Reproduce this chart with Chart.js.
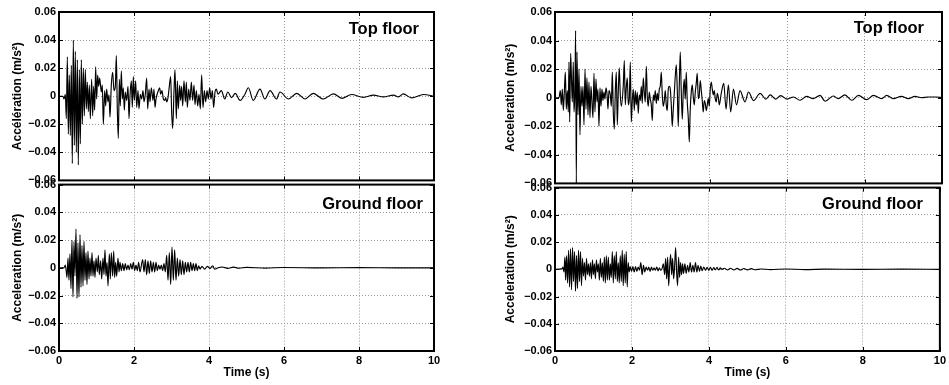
<!DOCTYPE html>
<html>
<head>
<meta charset="utf-8">
<script src="https://cdn.jsdelivr.net/npm/chart.js@4/dist/chart.umd.min.js"></script>
<style>
  html, body { margin: 0; padding: 0; background: #fff; }
  #wrap { position: relative; width: 949px; height: 385px; overflow: hidden; background: #fff; }
  canvas { position: absolute; }
</style>
</head>
<body>
<div id="wrap">
  <canvas id="leftTop" width="470" height="190" style="left:0px;top:0px"></canvas>
  <canvas id="leftBottom" width="470" height="210" style="left:0px;top:175px"></canvas>
  <canvas id="rightTop" width="459" height="193" style="left:490px;top:0px"></canvas>
  <canvas id="rightBottom" width="459" height="207" style="left:490px;top:178px"></canvas>
</div>
<script>
// time (s), acceleration (m/s²)
const leftTopData = [[0,0],[0.106,0],[0.133,-0.002],[0.169,0.0014],[0.195,-0.016],[0.222,0.028],[0.249,-0.027],[0.275,0.015],[0.302,-0.028],[0.329,0.022],[0.355,-0.048],[0.382,0.040],[0.409,-0.035],[0.435,0.032],[0.462,-0.040],[0.489,0.026],[0.515,-0.049],[0.542,0.019],[0.569,-0.034],[0.595,0.026],[0.622,-0.020],[0.649,0.020],[0.675,-0.014],[0.702,0.019],[0.729,-0.009],[0.755,0.010],[0.782,-0.011],[0.809,0.008],[0.835,-0.016],[0.871,0.012],[0.898,-0.014],[0.924,0.007],[0.951,-0.010],[0.978,0.021],[1.004,-0.002],[1.031,0.015],[1.058,0.007],[1.084,0.013],[1.129,0.003],[1.155,0.008],[1.182,-0.020],[1.218,0.004],[1.244,-0.007],[1.271,0.005],[1.306,-0.004],[1.333,0.001],[1.360,-0.015],[1.395,0.008],[1.431,0.017],[1.466,0.004],[1.502,0.007],[1.529,0.029],[1.555,-0.009],[1.582,-0.030],[1.609,0.012],[1.635,-0.007],[1.662,0.018],[1.689,-0.002],[1.715,0.006],[1.742,-0.010],[1.769,0.003],[1.804,-0.003],[1.840,0.007],[1.867,-0.016],[1.893,0],[1.929,0.011],[1.955,-0.008],[1.982,0.014],[2.009,-0.003],[2.044,0.011],[2.071,-0.008],[2.107,0.004],[2.133,-0.009],[2.169,0.0014],[2.204,-0.002],[2.240,0.004],[2.267,-0.004],[2.302,0.0014],[2.338,0.013],[2.365,-0.009],[2.400,0.005],[2.427,-0.004],[2.462,0.006],[2.507,-0.003],[2.533,0.005],[2.560,-0.008],[2.587,-0.002],[2.649,0.004],[2.684,0.006],[2.711,0.0014],[2.747,0.004],[2.782,-0.002],[2.818,-0.003],[2.844,-0.001],[2.871,-0.004],[2.907,-0.001],[2.942,0.007],[2.978,0.014],[3.004,-0.011],[3.031,-0.023],[3.067,0.004],[3.093,0.019],[3.129,-0.016],[3.156,0.011],[3.182,-0.009],[3.218,0.008],[3.244,-0.003],[3.271,0.007],[3.298,-0.007],[3.333,0.011],[3.369,-0.004],[3.396,0.010],[3.422,-0.008],[3.458,0.005],[3.493,-0.003],[3.529,0.010],[3.564,-0.003],[3.600,0.008],[3.627,-0.006],[3.662,0.004],[3.698,-0.007],[3.733,0.0014],[3.769,-0.009],[3.804,0.015],[3.840,-0.008],[3.876,0.004],[3.911,-0.004],[3.947,0.004],[3.982,-0.002],[4.018,0.006],[4.053,-0.002],[4.089,0.004],[4.124,-0.008],[4.160,0.003],[4.196,0.005],[4.24,0.0014],[4.33,0.004],[4.42,-0.002],[4.50,0.003],[4.60,-0.001],[4.70,0.002],[4.83,-0.003],[4.95,0.001],[5.05,0.006],[5.18,-0.003],[5.36,0.005],[5.49,-0.002],[5.63,0.004],[5.80,-0.002],[5.89,0.003],[6.12,-0.002],[6.34,0.002],[6.56,-0.002],[6.78,0.002],[7.05,-0.002],[7.32,0.0017],[7.54,-0.0015],[7.80,0.0012],[8.12,-0.0008],[8.38,0.0008],[8.65,-0.0005],[8.92,0.0008],[9.05,-0.0005],[9.18,0.0017],[9.40,-0.0012],[9.72,0.0012],[10,0]];

const leftBottomData = [[0,0],[0.133,0],[0.169,0.002],[0.195,-0.003],[0.213,-0.007],[0.240,0.007],[0.266,-0.009],[0.293,0.010],[0.320,-0.015],[0.346,0.020],[0.373,-0.021],[0.400,0.019],[0.426,-0.006],[0.453,0.028],[0.480,-0.022],[0.506,0.018],[0.533,-0.021],[0.560,0.024],[0.586,-0.014],[0.613,0.016],[0.640,-0.013],[0.666,0.019],[0.693,-0.009],[0.720,0.011],[0.746,-0.012],[0.773,0.012],[0.800,-0.008],[0.826,0.007],[0.853,-0.006],[0.880,0.011],[0.906,-0.006],[0.933,0.005],[0.960,-0.007],[0.986,0.007],[1.022,-0.003],[1.049,0.009],[1.075,-0.005],[1.111,0.005],[1.138,-0.008],[1.173,0.007],[1.200,-0.005],[1.226,0.013],[1.253,-0.006],[1.280,0.004],[1.306,-0.013],[1.342,0.010],[1.369,-0.008],[1.395,0.011],[1.431,-0.006],[1.458,0.012],[1.484,-0.007],[1.511,0.004],[1.538,-0.006],[1.573,0.007],[1.600,-0.003],[1.627,0.004],[1.662,-0.002],[1.698,0.003],[1.733,-0.002],[1.769,0.003],[1.804,-0.0015],[1.840,0.002],[1.876,-0.0015],[1.911,0.003],[1.947,-0.001],[1.982,0.004],[2.018,-0.002],[2.053,0.002],[2.089,-0.002],[2.124,0.004],[2.160,-0.003],[2.231,0.006],[2.267,-0.003],[2.302,0.006],[2.338,-0.005],[2.373,0.005],[2.409,-0.004],[2.444,0.005],[2.480,-0.003],[2.516,0.004],[2.551,-0.003],[2.587,0.004],[2.622,-0.002],[2.658,0.002],[2.693,-0.001],[2.729,0.002],[2.764,-0.002],[2.800,0.003],[2.836,-0.003],[2.871,0.009],[2.907,-0.009],[2.942,0.011],[2.978,-0.012],[3.013,0.015],[3.049,-0.009],[3.084,0.013],[3.120,-0.009],[3.156,0.007],[3.191,-0.006],[3.227,0.006],[3.262,-0.005],[3.298,0.005],[3.333,-0.005],[3.369,0.004],[3.404,-0.003],[3.440,0.004],[3.476,-0.003],[3.511,0.004],[3.547,-0.002],[3.582,0.003],[3.618,-0.002],[3.653,0.003],[3.689,-0.002],[3.724,0.0015],[3.760,-0.001],[3.813,0.001],[3.884,-0.001],[3.956,0.001],[4.027,-0.0005],[4.098,0.0015],[4.151,-0.001],[4.24,0],[4.35,0.0006],[4.5,-0.0004],[4.65,0.0005],[4.8,-0.0003],[5.0,0.0003],[5.5,-0.0002],[6,0.0002],[7,-0.0001],[8,0.0001],[9,0],[10,0]];

const rightTopData = [[0,0],[0.103,0],[0.137,0.005],[0.163,-0.005],[0.189,0.006],[0.215,-0.009],[0.241,0.004],[0.267,0.018],[0.292,-0.008],[0.318,0.005],[0.344,-0.010],[0.361,0.025],[0.379,-0.017],[0.404,0.031],[0.430,0.009],[0.447,-0.003],[0.473,0.025],[0.490,-0.010],[0.516,0.006],[0.533,0.047],[0.551,-0.060],[0.568,0.032],[0.594,-0.012],[0.620,0.020],[0.645,-0.026],[0.671,0.008],[0.697,-0.006],[0.723,0.008],[0.749,-0.019],[0.775,0.020],[0.800,-0.008],[0.826,0.014],[0.852,-0.012],[0.878,0.011],[0.904,-0.014],[0.930,0.008],[0.955,-0.003],[0.981,-0.014],[1.007,0.017],[1.033,-0.010],[1.059,0.013],[1.085,-0.003],[1.110,0.006],[1.136,-0.020],[1.162,0.007],[1.188,-0.006],[1.214,0.006],[1.240,-0.002],[1.265,0.004],[1.291,-0.001],[1.317,0.007],[1.343,0.003],[1.369,-0.008],[1.394,0.005],[1.429,0.002],[1.455,-0.006],[1.481,0.018],[1.506,-0.010],[1.532,-0.022],[1.558,0.004],[1.584,0.018],[1.610,-0.019],[1.636,0.005],[1.661,0.021],[1.687,0.002],[1.713,-0.006],[1.765,0.009],[1.791,0.026],[1.816,-0.005],[1.842,0.007],[1.868,0.014],[1.894,-0.005],[1.920,-0.001],[1.946,0.025],[1.971,-0.017],[1.997,-0.002],[2.023,0.006],[2.049,-0.009],[2.075,0.005],[2.101,-0.005],[2.126,0.004],[2.152,-0.011],[2.178,0.002],[2.204,-0.002],[2.230,0.008],[2.255,-0.004],[2.281,0.014],[2.307,0.004],[2.333,-0.003],[2.359,0.022],[2.385,0.0005],[2.410,-0.006],[2.436,0.004],[2.462,-0.001],[2.488,-0.005],[2.514,-0.016],[2.540,0.002],[2.565,-0.002],[2.591,0.005],[2.617,-0.004],[2.643,0.003],[2.669,-0.002],[2.695,0.006],[2.720,0.008],[2.746,0.018],[2.772,0.002],[2.798,-0.006],[2.824,-0.002],[2.850,0.005],[2.875,-0.005],[2.901,-0.009],[2.927,0.006],[2.953,0.008],[2.979,0.006],[3.005,-0.005],[3.030,-0.020],[3.056,-0.008],[3.082,0.003],[3.108,0.015],[3.134,0.023],[3.160,0.005],[3.185,-0.020],[3.211,0.008],[3.237,0.032],[3.263,0.004],[3.289,-0.015],[3.315,0.005],[3.340,0.013],[3.366,-0.001],[3.392,0.018],[3.418,-0.003],[3.444,-0.014],[3.470,-0.031],[3.495,-0.008],[3.521,0.004],[3.547,0.009],[3.573,0.0005],[3.599,-0.005],[3.625,0.004],[3.650,0.010],[3.676,0.017],[3.702,-0.0007],[3.728,0.0016],[3.754,0.012],[3.780,0.005],[3.805,-0.002],[3.831,-0.010],[3.857,-0.002],[3.883,-0.004],[3.909,-0.009],[3.935,-0.005],[3.961,-0.0007],[3.986,-0.006],[4.012,0.006],[4.038,0.011],[4.064,0.006],[4.090,0.002],[4.115,0.005],[4.141,-0.0007],[4.167,-0.003],[4.193,0.003],[4.219,0.0005],[4.245,-0.005],[4.296,0.003],[4.36,0.010],[4.42,-0.008],[4.48,0.009],[4.54,-0.010],[4.61,0.006],[4.69,-0.005],[4.78,0.005],[4.91,-0.003],[5.00,0.004],[5.13,-0.002],[5.30,0.003],[5.45,-0.001],[5.56,0.002],[5.70,-0.001],[5.83,0.0015],[6.00,-0.001],[6.16,0.0005],[6.33,-0.0018],[6.50,0.0009],[6.67,-0.0007],[6.85,0.0016],[6.98,-0.0025],[7.19,0.0012],[7.32,-0.0007],[7.49,0.0020],[7.67,-0.0018],[7.84,0.0016],[8.05,-0.0014],[8.23,0.0016],[8.44,-0.0007],[8.57,0.0016],[8.74,-0.0007],[8.95,0.0009],[9.13,-0.0007],[9.30,0.0009],[9.47,0],[9.64,0.0005],[9.85,0.0005],[10,0]];

const rightBottomData = [[0,0],[0.189,0.0005],[0.206,0.0017],[0.232,-0.002],[0.258,0.009],[0.275,-0.008],[0.301,0.010],[0.327,-0.010],[0.353,0.014],[0.379,-0.013],[0.404,0.015],[0.430,-0.015],[0.456,0.016],[0.482,-0.009],[0.508,0.013],[0.533,-0.016],[0.559,0.010],[0.585,-0.014],[0.611,0.014],[0.637,-0.009],[0.663,0.013],[0.688,-0.012],[0.714,0.008],[0.740,-0.005],[0.766,0.005],[0.792,-0.008],[0.818,0.008],[0.843,-0.004],[0.869,0.004],[0.895,-0.005],[0.921,0.005],[0.947,-0.007],[0.973,0.007],[0.998,-0.004],[1.024,0.004],[1.050,-0.007],[1.076,0.007],[1.102,-0.002],[1.128,0.004],[1.153,-0.008],[1.179,0.008],[1.205,-0.006],[1.231,0.005],[1.257,-0.009],[1.283,0.009],[1.308,-0.010],[1.334,0.010],[1.360,-0.008],[1.386,0.009],[1.412,-0.008],[1.438,0.004],[1.463,-0.006],[1.489,0.013],[1.515,-0.010],[1.541,0.010],[1.567,-0.007],[1.593,0.013],[1.618,-0.009],[1.644,0.005],[1.670,-0.010],[1.696,0.010],[1.722,-0.009],[1.747,0.014],[1.773,-0.012],[1.799,0.011],[1.825,-0.010],[1.851,0.013],[1.877,-0.013],[1.902,0.005],[1.928,-0.002],[1.954,0.002],[1.989,-0.0015],[2.023,0.002],[2.057,-0.002],[2.092,0.002],[2.126,-0.0015],[2.161,0.0017],[2.195,-0.0007],[2.230,0.005],[2.264,-0.004],[2.299,0.003],[2.333,-0.002],[2.367,0.0017],[2.402,-0.0007],[2.436,0.0017],[2.471,-0.0015],[2.505,0.0017],[2.540,-0.0007],[2.574,0.001],[2.609,-0.0007],[2.643,0.0017],[2.677,-0.0012],[2.712,0.001],[2.746,-0.0007],[2.781,0.0005],[2.815,0.004],[2.850,-0.004],[2.875,0.008],[2.901,-0.007],[2.927,0.009],[2.953,-0.012],[2.979,0.002],[3.005,0.011],[3.030,-0.004],[3.056,0.008],[3.082,-0.007],[3.108,0.002],[3.134,0.016],[3.160,-0.002],[3.185,-0.012],[3.211,0.009],[3.237,-0.006],[3.263,0.005],[3.289,-0.004],[3.315,0.004],[3.340,-0.003],[3.375,0.004],[3.409,-0.003],[3.444,0.003],[3.478,-0.002],[3.513,0.005],[3.547,-0.002],[3.582,0.003],[3.616,-0.002],[3.650,0.005],[3.685,-0.002],[3.719,0.003],[3.754,-0.0015],[3.788,0.0024],[3.823,-0.001],[3.866,0.0017],[3.909,-0.0007],[3.952,0.0015],[3.995,-0.0007],[4.038,0.0015],[4.081,-0.0007],[4.124,0.0012],[4.167,-0.0005],[4.210,0.0015],[4.253,-0.0005],[4.296,0.001],[4.339,0],[4.40,0.0008],[4.48,-0.0005],[4.56,0.0008],[4.65,-0.0005],[4.73,0.0007],[4.82,-0.0005],[4.91,0.0006],[5.00,-0.0004],[5.10,0.0005],[5.20,-0.0003],[5.35,0.0002],[5.60,-0.0002],[6.0,0.0002],[6.5,-0.0002],[7.0,0.0001],[8.0,-0.0001],[9.0,0.0001],[10,0]];

const timeTicks = ['0', '2', '4', '6', '8', '10'];

const FONT = '"Liberation Sans", Arial, Helvetica, sans-serif';
const tickFont = { family: FONT, size: 11, weight: 'bold' };
const titleFont = { family: FONT, size: 12, weight: 'bold' };

function fmtAcc(v) {
  if (Math.abs(v) < 1e-9) return '0';
  return v.toFixed(2).replace('-', '\u2212');
}

// frame, inward ticks and panel label, like the matlab figure
const framePlugin = {
  id: 'panelFrame',
  afterDraw(chart, args, opts) {
    const { ctx, chartArea: a, scales: { x, y } } = chart;
    ctx.save();
    ctx.strokeStyle = '#000';
    ctx.lineWidth = 1;
    ctx.beginPath();
    x.ticks.forEach(t => {
      const px = Math.round(x.getPixelForValue(t.value)) + 0.5;
      ctx.moveTo(px, a.top); ctx.lineTo(px, a.top + 4);
      ctx.moveTo(px, a.bottom); ctx.lineTo(px, a.bottom - 4);
    });
    y.ticks.forEach(t => {
      const py = Math.round(y.getPixelForValue(t.value)) + 0.5;
      ctx.moveTo(a.left, py); ctx.lineTo(a.left + 4, py);
      ctx.moveTo(a.right, py); ctx.lineTo(a.right - 4, py);
    });
    ctx.stroke();
    ctx.lineWidth = 2;
    ctx.strokeRect(a.left, a.top, a.right - a.left, a.bottom - a.top);
    ctx.fillStyle = '#000';
    ctx.font = 'bold 16.5px ' + FONT;
    ctx.textAlign = 'right';
    ctx.textBaseline = 'alphabetic';
    ctx.fillText(opts.label, a.right - opts.dx, a.top + opts.dy);
    ctx.restore();
  }
};

function makePanel(id, pairs, cfg) {
  return new Chart(document.getElementById(id), {
    type: 'line',
    data: {
      datasets: [{
        data: pairs.map(p => ({ x: p[0], y: p[1] })),
        borderColor: '#000',
        borderWidth: 1.15,
        pointRadius: 0,
        cubicInterpolationMode: 'monotone',
        fill: false
      }]
    },
    options: {
      responsive: false,
      animation: false,
      devicePixelRatio: 1,
      layout: { padding: { top: cfg.padTop, right: cfg.padRight, left: 0, bottom: 0 } },
      plugins: {
        legend: { display: false },
        tooltip: { enabled: false },
        panelFrame: { label: cfg.label, dx: cfg.dx, dy: cfg.dy }
      },
      scales: {
        x: {
          type: 'linear', min: 0, max: 10,
          ticks: {
            stepSize: 2, display: cfg.showX, color: '#000', font: tickFont,
            padding: 3, maxRotation: 0, autoSkip: false,
            callback: (v, i) => timeTicks[i]
          },
          grid: { color: '#999999', drawTicks: false },
          border: { display: false, dash: [1, 2] },
          title: { display: cfg.showX, text: 'Time (s)', color: '#000', font: titleFont, padding: { top: 0, bottom: 5 } },
          afterFit: s => { s.height = cfg.xh; }
        },
        y: {
          min: -0.06, max: 0.06,
          ticks: { stepSize: 0.02, color: '#000', font: tickFont, padding: 3, callback: fmtAcc },
          grid: { color: '#999999', drawTicks: false },
          border: { display: false, dash: [1, 2] },
          title: { display: true, text: cfg.yTitle, color: '#000', font: titleFont, padding: { top: cfg.yTitlePad, bottom: 0 } },
          afterFit: s => { s.width = cfg.yw; }
        }
      }
    },
    plugins: [framePlugin]
  });
}

makePanel('leftTop', leftTopData, {
  padTop: 12, padRight: 36, yw: 59, xh: 7, showX: false, yTitlePad: 10,
  yTitle: 'Accélération (m/s²)', label: 'Top floor', dx: 15, dy: 22
});
makePanel('leftBottom', leftBottomData, {
  padTop: 8, padRight: 36, yw: 59, xh: 34, showX: true, yTitlePad: 10,
  yTitle: 'Acceleration (m/s²)', label: 'Ground floor', dx: 11, dy: 24
});
makePanel('rightTop', rightTopData, {
  padTop: 12, padRight: 7, yw: 65, xh: 7, showX: false, yTitlePad: 13,
  yTitle: 'Acceleration (m/s²)', label: 'Top floor', dx: 18, dy: 21
});
makePanel('rightBottom', rightBottomData, {
  padTop: 8, padRight: 7, yw: 65, xh: 34, showX: true, yTitlePad: 13,
  yTitle: 'Acceleration (m/s²)', label: 'Ground floor', dx: 17, dy: 21
});
</script>
</body>
</html>
